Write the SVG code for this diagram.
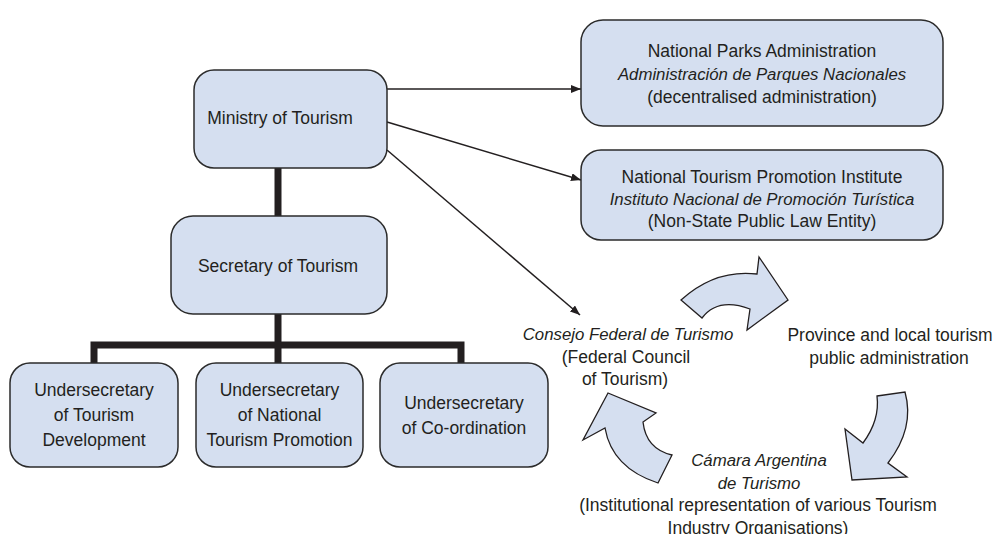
<svg xmlns="http://www.w3.org/2000/svg" width="996" height="534" viewBox="0 0 996 534">
<style>
.box{fill:#d5dff0;stroke:#2b2b2b;stroke-width:1.5}
.t{font-family:"Liberation Sans",Arial,sans-serif;font-size:17.5px;fill:#231f20;text-anchor:middle}
.i{font-style:italic;font-size:16.8px}
.thick{stroke:#231f20;stroke-width:7;fill:none}
.thin{stroke:#231f20;stroke-width:1.5;fill:none;marker-end:url(#ah)}
.cyc{fill:#d5dff0;stroke:#231f20;stroke-width:1.3;stroke-linejoin:miter}
</style>
<defs>
<marker id="ah" viewBox="0 0 10 8" refX="10" refY="4" markerWidth="10" markerHeight="8" markerUnits="userSpaceOnUse" orient="auto">
<path d="M0,0 L10,4 L0,8 Z" fill="#231f20"/>
</marker>
</defs>
<rect width="996" height="534" fill="#ffffff"/>
<g id="connectors">
<path class="thick" d="M278,168 V216"/>
<path class="thick" d="M278,314 V345"/>
<path class="thick" d="M94,363 V345 H461 V363"/>
<path class="thick" d="M278,345 V363"/>
<path class="thin" d="M387,89 L581,89"/>
<path class="thin" d="M387,122 L581,180"/>
<path class="thin" d="M387,150 L580,315"/>
</g>
<g id="ministry">
<rect class="box" x="194" y="70" width="193" height="98" rx="20"/>
<text class="t" x="280" y="124">Ministry of Tourism</text>
</g>
<g id="secretary">
<rect class="box" x="171" y="216" width="216" height="98" rx="22"/>
<text class="t" x="278" y="272">Secretary of Tourism</text>
</g>
<g id="under1">
<rect class="box" x="10" y="363" width="168" height="104" rx="20"/>
<text class="t" x="94" y="396">Undersecretary</text>
<text class="t" x="94" y="421">of Tourism</text>
<text class="t" x="94" y="446">Development</text>
</g>
<g id="under2">
<rect class="box" x="196" y="363" width="167" height="104" rx="20"/>
<text class="t" x="279.5" y="396">Undersecretary</text>
<text class="t" x="279.5" y="421">of National</text>
<text class="t" x="279.5" y="446">Tourism Promotion</text>
</g>
<g id="under3">
<rect class="box" x="380" y="363" width="168" height="104" rx="20"/>
<text class="t" x="464" y="408.5">Undersecretary</text>
<text class="t" x="464" y="433.5">of Co-ordination</text>
</g>
<g id="parks">
<rect class="box" x="581" y="20" width="362" height="106" rx="22"/>
<text class="t" x="762" y="57">National Parks Administration</text>
<text class="t i" x="762" y="80">Administración de Parques Nacionales</text>
<text class="t" x="762" y="103">(decentralised administration)</text>
</g>
<g id="institute">
<rect class="box" x="581" y="150" width="362" height="90" rx="20"/>
<text class="t" x="762" y="183">National Tourism Promotion Institute</text>
<text class="t i" x="762" y="205">Instituto Nacional de Promoción Turística</text>
<text class="t" x="762" y="227">(Non-State Public Law Entity)</text>
</g>
<g id="consejo">
<text class="t i" x="628" y="340">Consejo Federal de Turismo</text>
<text class="t" x="626" y="363">(Federal Council</text>
<text class="t" x="625" y="385">of Tourism)</text>
</g>
<g id="province">
<text class="t" x="890" y="341">Province and local tourism</text>
<text class="t" x="889" y="364">public administration</text>
</g>
<g id="camara">
<text class="t i" x="759" y="466">Cámara Argentina</text>
<text class="t i" x="759" y="488.5">de Turismo</text>
<text class="t" x="758" y="511">(Institutional representation of various Tourism</text>
<text class="t" x="758" y="533.5">Industry Organisations)</text>
</g>
<g id="cycle">
<path class="cyc" d="M681,300 Q715,269 757,274 L759,257 L788,300 L747,330 L750,309 Q718,297 702,318 Z"/>
<path class="cyc" d="M877,396 L905,392 Q915,428 888,463 L907,477 L852,480 L845,429 L863,443 Q880,420 877,396 Z"/>
<path class="cyc" d="M608,393 L656,413 L643,422 Q646,449 672,455 L658,483 Q612,468 605,428 L583,440 Z"/>
</g>
</svg>
